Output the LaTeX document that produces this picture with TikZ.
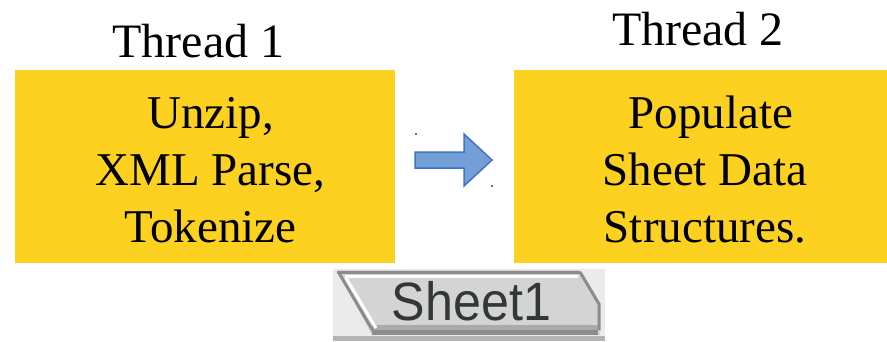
\documentclass[tikz,border=0pt]{standalone}
\usepackage{fontspec}
\setmainfont{Liberation Serif}
\newfontfamily\tabfont{Liberation Sans}
\definecolor{boxyellow}{RGB}{253,209,32}
\definecolor{arrowfill}{RGB}{114,159,214}
\definecolor{arrowline}{RGB}{68,114,196}
\definecolor{tabbg}{RGB}{235,235,235}
\definecolor{tabface}{RGB}{212,212,212}
\definecolor{tabdark}{RGB}{140,140,140}
\definecolor{tabmid}{RGB}{170,170,170}
\definecolor{tabbar}{RGB}{180,180,180}
\definecolor{tabtext}{RGB}{50,55,56}
\begin{document}
\begin{tikzpicture}[x=1pt,y=-1pt,
  yellowbox/.style={fill=boxyellow,draw=none,inner sep=0pt,minimum height=193pt},
  boxtext/.style={align=center,inner sep=0pt,font=\fontsize{47}{57}\selectfont},
  threadlabel/.style={anchor=base,inner sep=0pt,font=\fontsize{48}{58}\selectfont},
  tabline/.style={line width=3pt,line cap=butt}]
\useasboundingbox (0,0) rectangle (887,341);
% boxes
\node[yellowbox,minimum width=380pt] (box1) at (205,166.5) {};
\node[yellowbox,minimum width=373pt] (box2) at (700.5,166.5) {};
\node[boxtext] (t1) at (210.5,170.5) {Unzip,\\XML Parse,\\Tokenize};
\node[boxtext] (t2) at (705,170) {\hspace*{12pt}Populate\\Sheet Data\\Structures.};
% labels
\node[threadlabel] (l1) at (198.5,57) {Thread 1};
\node[threadlabel] (l2) at (698,45) {Thread 2};
% block arrow
\draw[fill=arrowfill,draw=arrowline,line width=1.5pt,line join=miter]
  (415,152) -- (464,152) -- (464,134) -- (492,160) -- (464,186) -- (464,168) -- (415,168) -- cycle;
\fill[arrowline] (415,133) rectangle (417,135);
\fill[arrowline] (491,185) rectangle (493,187);
% sheet tab
\fill[tabbg] (333,269) rectangle (605,341);
\fill[tabface] (337,270) -- (580,270) -- (600,304) -- (600,335) -- (372,335) -- cycle;
\fill[tabmid] (372,325) rectangle (598,330);
\fill[tabdark] (372,330) rectangle (598,335);
\fill[tabbar] (333,336) rectangle (605,341);
\draw[tabline,tabdark] (337,272) -- (580,272);
\draw[tabline,white] (345,276.5) -- (578,276.5);
\draw[tabline,tabdark] (339,273) -- (373,331);
\draw[tabline,white] (346,278) -- (376,328);
\draw[tabline,tabdark] (580,272) -- (599,304) -- (599,330);
\node[anchor=base,inner sep=0pt,text=tabtext,font=\tabfont\fontsize{54}{60}\selectfont,xscale=0.93] (tab) at (471.5,320) {Sheet1};
\end{tikzpicture}
\end{document}
